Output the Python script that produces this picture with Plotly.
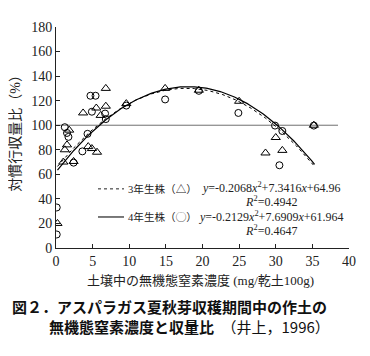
import numpy as np
import plotly.graph_objects as go

# --- data ---
x3 = [0.2, 1.0, 1.2, 1.5, 1.8, 2.4, 3.7, 4.4, 4.9, 5.6, 5.5, 6.1, 6.8, 6.8, 9.6, 14.9, 19.5, 25.0, 28.6, 30.0, 30.9, 35.2]
y3 = [20, 70, 80, 84, 96, 70.5, 110, 82.6, 81, 78, 114, 108, 115.5, 130, 117.6, 130, 128.5, 119.5, 77.4, 90, 79.5, 100]
x4 = [0.1, 0.1, 1.2, 1.5, 1.7, 2.4, 3.6, 4.3, 4.7, 5.4, 4.9, 6.7, 6.8, 9.6, 14.9, 19.5, 24.9, 29.9, 30.9, 30.5, 35.2]
y4 = [33, 11, 98.4, 93.7, 90.5, 69.5, 78.7, 93, 124, 124, 111, 109.5, 105, 116, 121, 128, 110, 99.7, 95.3, 67.4, 99.7]

coef3 = [-0.2068, 7.3416, 64.96]
coef4 = [-0.2129, 7.6909, 61.964]
fit_x_range = [0.2, 35.3]
ref_y = 100
ref_x_range = [0, 38.5]

x_ticks = [0, 5, 10, 15, 20, 25, 30, 35, 40]
y_ticks = [0, 20, 40, 60, 80, 100, 120, 140, 160, 180]

SERIF = "Liberation Serif, Noto Sans CJK JP"
CJK = "Noto Sans CJK JP"

fx = np.linspace(fit_x_range[0], fit_x_range[1], 200)
f3 = np.polyval(coef3, fx)
f4 = np.polyval(coef4, fx)

fig = go.Figure()
fig.add_trace(go.Scatter(x=ref_x_range, y=[ref_y, ref_y], mode="lines",
                         line=dict(color="#707070", width=1), showlegend=False))
fig.add_trace(go.Scatter(x=fx, y=f3, mode="lines",
                         line=dict(color="black", width=1, dash="dot"), showlegend=False))
fig.add_trace(go.Scatter(x=fx, y=f4, mode="lines",
                         line=dict(color="black", width=1.2), showlegend=False))
fig.add_trace(go.Scatter(x=x3, y=y3, mode="markers",
                         marker=dict(symbol="triangle-up-open", size=8, color="black",
                                     line=dict(width=1, color="black")), showlegend=False))
fig.add_trace(go.Scatter(x=x4, y=y4, mode="markers",
                         marker=dict(symbol="circle-open", size=7, color="black",
                                     line=dict(width=1, color="black")), showlegend=False))

OFF = 8  # page body margin
L, R, T, B = 56, 349, 20, 248  # plot area in reference pixels
W, H = 370 - OFF, 356 - OFF

def px(x):
    return (x - L) / (R - L)

def py(y):
    return (B - y) / (B - T)

fig.update_layout(
    width=W, height=H,
    margin=dict(l=L - OFF, r=370 - R, t=T - OFF, b=356 - B, pad=0),
    plot_bgcolor="white", paper_bgcolor="white",
    xaxis=dict(range=[0, 40], tickvals=x_ticks, ticks="inside", ticklen=4,
               tickcolor="#222", showline=True, linecolor="#222", linewidth=1,
               showgrid=False, zeroline=False, mirror=False,
               tickfont=dict(family=SERIF, size=14, color="#222")),
    yaxis=dict(range=[0, 180], tickvals=y_ticks, ticks="inside", ticklen=4,
               tickcolor="#222", showline=True, linecolor="#222", linewidth=1,
               showgrid=False, zeroline=False, mirror=False,
               tickfont=dict(family=SERIF, size=14, color="#222")),
)

ann = []
# axis titles
ann.append(dict(x=px(200), y=py(282), xref="paper", yref="paper", showarrow=False,
                text="土壌中の無機態窒素濃度 (mg/乾土100g)",
                font=dict(family=SERIF, size=13, color="#222"), xanchor="center", yanchor="middle"))
ann.append(dict(x=px(15), y=py(126), xref="paper", yref="paper", showarrow=False,
                text="対慣行収量比（%）", textangle=-90,
                font=dict(family=SERIF, size=14, color="#222"), xanchor="center", yanchor="middle"))
# legend texts
ann.append(dict(x=px(126), y=py(187), xref="paper", yref="paper", showarrow=False,
                text="3年生株（△）", font=dict(family=SERIF, size=10.6, color="#222"),
                xanchor="left", yanchor="middle"))
ann.append(dict(x=px(126), y=py(216), xref="paper", yref="paper", showarrow=False,
                text="4年生株（◯）", font=dict(family=SERIF, size=10.6, color="#222"),
                xanchor="left", yanchor="middle"))
eq_text = ("<span style='font-size:12px'><i>y</i>=-0.2068<i>x</i><sup>2</sup>+7.3416<i>x</i>+64.96</span><br>"
           "<span style='font-size:12px'><i>R</i><sup>2</sup>=0.4942</span><br>"
           "<span style='font-size:12px'><i>y</i>=-0.2129<i>x</i><sup>2</sup>+7.6909<i>x</i>+61.964</span><br>"
           "<span style='font-size:12px'><i>R</i><sup>2</sup>=0.4647</span>")
ann.append(dict(x=px(271), y=py(207.5), xref="paper", yref="paper", showarrow=False,
                text=eq_text,
                font=dict(family="Liberation Serif", size=11, color="#222"), align="center",
                xanchor="center", yanchor="middle"))
# caption
ann.append(dict(x=px(10), y=py(320), xref="paper", yref="paper", showarrow=False,
                text="<b>図２．アスパラガス夏秋芽収穫期間中の作土の</b><br>"
                     "　<span style='font-size:22px'>　</span><b>無機態窒素濃度と収量比</b>　（井上，1996）",
                font=dict(family=CJK, size=15, color="#111"), align="left",
                xanchor="left", yanchor="middle"))
fig.update_layout(annotations=ann)

shapes = [
    dict(type="line", xref="paper", yref="paper", x0=px(98), x1=px(124), y0=py(187), y1=py(187),
         line=dict(color="#222", width=1, dash="dot")),
    dict(type="line", xref="paper", yref="paper", x0=px(98), x1=px(124), y0=py(216), y1=py(216),
         line=dict(color="#222", width=1.2)),
]
fig.update_layout(shapes=shapes)

fig.write_html("out.html")
